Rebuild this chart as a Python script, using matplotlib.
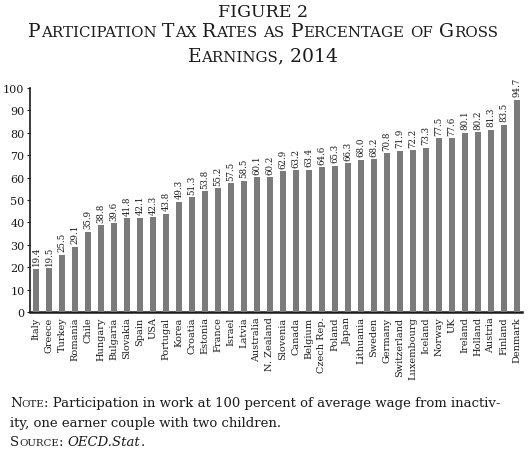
import matplotlib
matplotlib.use("Agg")
import matplotlib.pyplot as plt
from matplotlib.transforms import IdentityTransform

INK = "#1c1a1a"
BAR = "#7b7b7b"
FONT = "DejaVu Serif"

countries = ["Italy", "Greece", "Turkey", "Romania", "Chile", "Hungary", "Bulgaria",
             "Slovakia", "Spain", "USA", "Portugal", "Korea", "Croatia", "Estonia",
             "France", "Israel", "Latvia", "Australia", "N. Zealand", "Slovenia",
             "Canada", "Belgium", "Czech Rep.", "Poland", "Japan", "Lithuania",
             "Sweden", "Germany", "Switzerland", "Luxembourg", "Iceland", "Norway",
             "UK", "Ireland", "Holland", "Austria", "Finland", "Denmark"]
rates = [19.4, 19.5, 25.5, 29.1, 35.9, 38.8, 39.6, 41.8, 42.1, 42.3, 43.8, 49.3,
         51.3, 53.8, 55.2, 57.5, 58.5, 60.1, 60.2, 62.9, 63.2, 63.4, 64.6, 65.3,
         66.3, 68.0, 68.2, 70.8, 71.9, 72.2, 73.3, 77.5, 77.6, 80.1, 80.2, 81.3,
         83.5, 94.7]
yticks = list(range(0, 101, 10))

plt.rcParams.update({"font.family": FONT, "text.color": INK})

W, H = 530, 460
fig = plt.figure(figsize=(W / 100, H / 100), dpi=100, facecolor="white")
R = fig.canvas.get_renderer()


def width(s, size, style):
    t = fig.text(0, 0, "x" + s + "x", fontsize=size, fontstyle=style)
    t2 = fig.text(0, 0, "xx", fontsize=size, fontstyle=style)
    w = t.get_window_extent(R).width - t2.get_window_extent(R).width
    t.remove(); t2.remove()
    return w


def smallcaps(text, big, small, style="normal"):
    runs = []
    for ch in text:
        size = small if ch.islower() else big
        ch = ch.upper()
        if runs and runs[-1][1] == size and runs[-1][2] == style:
            runs[-1] = (runs[-1][0] + ch, size, style)
        else:
            runs.append((ch, size, style))
    return runs


def rich(x, y, runs, ha="left"):
    # x, y in pixels from top-left; y is the baseline
    placed, cur = [], 0.0
    for s, size, style in runs:
        sp = width(" ", size, style)
        core = s.strip(" ")
        if not core:
            cur += len(s) * sp
            continue
        cur += (len(s) - len(s.lstrip(" "))) * sp
        placed.append((cur, core, size, style))
        cur += width(core, size, style)
        cur += (len(s) - len(s.rstrip(" "))) * sp
    x0 = x - cur / 2 if ha == "center" else x
    for dx, s, size, style in placed:
        fig.text(x0 + dx, H - y, s, fontsize=size, fontstyle=style, color=INK,
                 ha="left", va="baseline", transform=IdentityTransform())


# title
rich(263, 16.7, [("FIGURE 2", 12.5, "normal")], ha="center")
rich(263, 37.5, smallcaps("Participation Tax Rates as Percentage of Gross", 13.5, 10.8), ha="center")
rich(263, 61.8, smallcaps("Earnings, 2014", 13.5, 10.8), ha="center")

# bars
ax = fig.add_axes([30 / W, 147 / H, 492 / W, 224 / H])
x = list(range(len(countries)))
ax.bar(x, rates, width=0.46, color=BAR, zorder=3)
for xi, v in zip(x, rates):
    ax.text(xi, v + 1.6, f"{v:.1f}", rotation=90, ha="center", va="bottom",
            fontsize=6.2, color=INK)
for xi, name in zip(x, countries):
    ax.text(xi, -2.0, name, rotation=90, ha="center", va="top",
            fontsize=7, color=INK)

ax.set_xlim(-0.46, len(countries) - 0.58)
ax.set_ylim(0, 100)
ax.set_xticks([])
ax.set_yticks(yticks)
ax.set_yticklabels([str(t) for t in yticks], fontsize=8, color=INK)
ax.tick_params(axis="y", length=2, width=0.8, pad=2, color=INK)
for s in ["top", "right"]:
    ax.spines[s].set_visible(False)
ax.spines["left"].set_linewidth(1.2)
ax.spines["left"].set_color(INK)
ax.spines["bottom"].set_linewidth(1.8)
ax.spines["bottom"].set_color(INK)
ax.patch.set_alpha(0)

# note and source
rich(10, 407.5, smallcaps("Note", 9.5, 7.4) +
     [(": Participation in work at 100 percent of average wage from inactiv-", 9.5, "normal")])
rich(10, 427, [("ity, one earner couple with two children.", 9.5, "normal")])
rich(10, 446, smallcaps("Source", 9.5, 7.4) + [(": ", 9.5, "normal"),
     ("OECD.Stat", 9.5, "italic"), (".", 9.5, "normal")])

fig.savefig("out.png", dpi=100, facecolor="white")
